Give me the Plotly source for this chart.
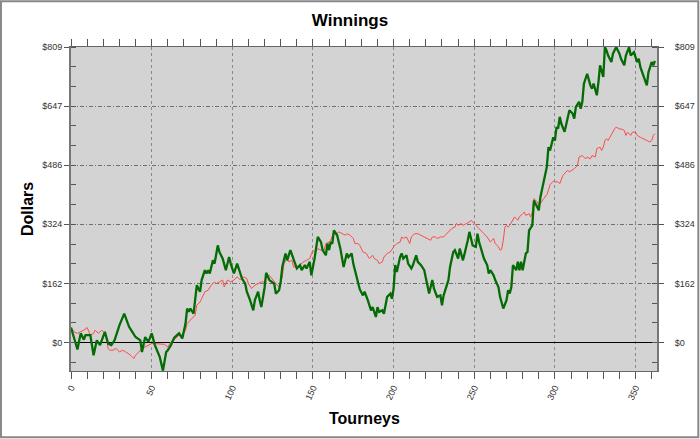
import plotly.graph_objects as go

# Green series (thick): tourney number, cumulative dollars
green_x = [0,4,6,8,9,12,14,16,18,21,23,25,27,30,33,36,38,40,43,44,46,48,50,52,55,57,59,60,62,64,67,69,71,72,73,74,76,77,78,80,81,83,84,85,86,88,89,91,92,94,96,98,99,101,103,105,106,108,109,111,113,114,116,117,118,120,121,123,126,127,129,130,131,133,134,136,138,140,142,143,145,146,148,149,150,151,153,155,156,158,159,160,161,162,163,165,166,167,169,171,172,174,175,177,179,181,182,184,186,187,189,190,191,193,194,196,198,199,200,201,202,204,205,206,208,209,211,212,214,215,217,219,221,222,224,225,227,229,230,231,233,234,235,237,238,240,241,243,246,247,248,249,251,252,253,255,256,258,259,260,262,263,265,266,267,268,270,271,272,273,274,276,277,278,279,280,282,283,284,286,287,289,290,291,292,293,295,296,297,299,300,301,302,303,304,306,308,309,311,312,313,315,316,317,318,320,322,323,324,326,327,328,330,331,332,333,335,336,338,340,341,343,344,346,347,349,351,352,353,355,357,358,360,361,362]
green_y = [41,-19,25,8,20,20,-35,6,-7,29,-3,-7,6,47,79,43,29,15,6,-26,15,2,25,-7,-39,-77,-26,-21,-7,13,25,11,52,93,84,93,79,125,157,139,171,198,189,198,189,225,216,266,248,230,198,234,216,189,216,189,175,161,139,116,88,116,139,116,97,150,191,171,161,134,143,166,207,244,225,253,225,203,212,198,212,203,221,184,207,230,289,275,253,239,271,253,275,271,307,294,275,257,207,244,234,244,216,180,146,129,139,116,88,97,70,97,84,88,79,125,134,120,148,212,193,234,244,230,239,216,203,212,239,221,212,198,161,134,171,148,125,129,102,129,157,171,207,248,253,230,257,225,280,303,285,266,262,298,275,248,230,212,189,198,184,171,152,125,107,93,116,143,134,152,212,198,221,198,221,198,244,248,307,321,389,371,362,398,421,440,481,535,526,562,553,590,586,618,599,577,613,636,627,613,645,659,640,659,709,736,704,695,709,677,713,759,727,809,800,786,768,791,809,791,777,759,786,809,786,795,768,777,754,731,704,740,768,759,771]

# Red series (thin)
red_x = [0,2,4,6,8,10,12,14,15,17,19,21,22,23,24,26,28,30,32,34,37,39,40,42,44,46,48,50,52,55,58,60,62,64,67,69,71,72,74,76,77,78,80,81,83,85,87,89,90,92,94,95,97,99,101,103,105,107,109,110,112,114,116,118,120,121,123,125,127,129,131,132,134,135,137,138,140,142,144,146,148,150,151,153,155,157,158,160,161,163,164,166,168,170,171,173,175,176,178,179,181,183,185,187,188,190,191,193,194,196,198,199,200,202,204,205,206,208,209,210,211,213,215,217,219,221,223,224,226,227,229,231,232,233,235,236,238,239,240,242,243,245,247,248,249,251,252,254,256,258,260,261,262,263,265,266,267,268,269,270,271,272,274,275,277,278,280,281,282,284,285,286,287,289,290,291,293,295,296,297,299,300,302,303,305,307,308,309,311,312,314,315,317,319,320,322,323,325,326,328,329,330,331,332,333,334,335,337,338,340,341,343,344,345,347,348,350,351,353,355,357,359,360,361,362]
red_y = [41,29,25,29,34,41,20,25,34,25,34,25,15,-16,-21,-21,-16,-26,-21,-26,-35,-44,-35,-26,-16,-12,-7,-3,-3,-5,-5,-12,2,8,20,20,34,52,61,70,75,102,111,120,139,143,157,166,161,166,171,152,171,166,171,180,171,180,175,161,148,157,161,166,166,180,184,171,161,152,180,216,230,221,225,207,207,212,221,225,230,253,248,257,253,253,271,275,280,303,294,303,298,294,298,294,285,271,271,266,248,244,230,239,230,225,216,221,234,244,248,257,262,271,275,289,285,289,280,271,289,298,298,294,289,285,280,289,289,285,289,289,294,298,307,312,316,326,321,326,321,326,330,335,330,321,316,307,298,289,275,280,285,271,262,253,255,280,316,321,316,321,335,344,335,344,353,357,348,353,344,357,394,385,376,380,394,405,417,432,442,440,440,435,458,467,472,467,472,476,485,508,512,503,508,503,512,508,531,535,526,535,553,558,553,562,567,585,590,585,585,581,567,576,567,576,576,567,562,558,553,549,553,567,572]

y_tick_vals = [0, 161.85, 323.7, 485.55, 647.4, 809.25]
y_tick_text = ["$0", "$162", "$324", "$486", "$647", "$809"]
x_tick_vals = [0, 50, 100, 150, 200, 250, 300, 350]

Y_MIN, Y_MAX = -78, 809.25
X_MIN, X_MAX = 0, 363.3

FONT = "Arial, Liberation Sans, sans-serif"

fig = go.Figure()
fig.add_trace(go.Scatter(x=red_x, y=red_y, mode="lines",
                         line=dict(color="#ff4a4a", width=1), showlegend=False))
fig.add_trace(go.Scatter(x=green_x, y=green_y, mode="lines",
                         line=dict(color="#056b05", width=2.3), showlegend=False))
# dummy trace so the right-hand axis is drawn
fig.add_trace(go.Scatter(x=red_x, y=red_y, yaxis="y2", mode="lines",
                         line=dict(color="rgba(0,0,0,0)", width=0),
                         hoverinfo="skip", showlegend=False))

tickfont = dict(family=FONT, size=9, color="#333333")

fig.update_layout(
    width=700, height=439,
    margin=dict(l=71, r=43, t=47, b=68),
    paper_bgcolor="white",
    plot_bgcolor="#d3d3d3",
    title=dict(text="<b>Winnings</b>", x=0.5, xanchor="center", y=0.955, yanchor="middle",
               font=dict(family=FONT, size=17, color="black")),
    xaxis=dict(range=[X_MIN, X_MAX], tickvals=x_tick_vals, tickangle=-65, automargin=False,
               tickfont=tickfont, ticks="outside", ticklen=7, tickcolor="#555555",
               showline=True, linecolor="#666666", linewidth=1, mirror="allticks",
               showgrid=True, gridcolor="#8a8a8a", griddash="dot", gridwidth=1,
               zeroline=False,
               minor=dict(dtick=10, tick0=0, ticks="outside", ticklen=5, tickcolor="#555555",
                          showgrid=False)),
    yaxis=dict(range=[Y_MIN, Y_MAX], tickvals=y_tick_vals, ticktext=y_tick_text, automargin=False,
               tickfont=tickfont, ticks="outside", ticklen=5, tickcolor="#555555",
               showline=True, linecolor="#777777", linewidth=2, mirror="allticks",
               showgrid=True, gridcolor="#707070", griddash="4px,2px,1px,2px", gridwidth=1,
               zeroline=True, zerolinecolor="black", zerolinewidth=1,
               minor=dict(dtick=53.95, tick0=0, ticks="inside", ticklen=5, tickcolor="#555555",
                          showgrid=False)),
    yaxis2=dict(range=[Y_MIN, Y_MAX], tickvals=y_tick_vals, ticktext=y_tick_text, automargin=False,
                overlaying="y", side="right", tickfont=tickfont, ticks="outside",
                ticklen=5, tickcolor="#555555", showgrid=False, zeroline=False,
                showline=False, ticklabelstandoff=10),
    annotations=[
        dict(text="<b>Dollars</b>", xref="paper", yref="paper", x=-0.075, y=0.5,
             xanchor="center", yanchor="middle", textangle=-90, showarrow=False,
             font=dict(family=FONT, size=16, color="black")),
        dict(text="<b>Tourneys</b>", xref="paper", yref="paper", x=0.5, y=-0.115,
             xanchor="center", yanchor="top", showarrow=False,
             font=dict(family=FONT, size=16, color="black")),
    ],
    shapes=[
        dict(type="rect", xref="paper", yref="paper",
             x0=-0.1195, x1=1.0705, y0=-0.2046, y1=1.141,
             line=dict(color="#888888", width=2), fillcolor="rgba(0,0,0,0)", layer="below"),
    ],
)

fig.write_html("out.html", config={"displayModeBar": False},
               post_script="document.body.style.margin='0';document.body.style.overflow='hidden';")
